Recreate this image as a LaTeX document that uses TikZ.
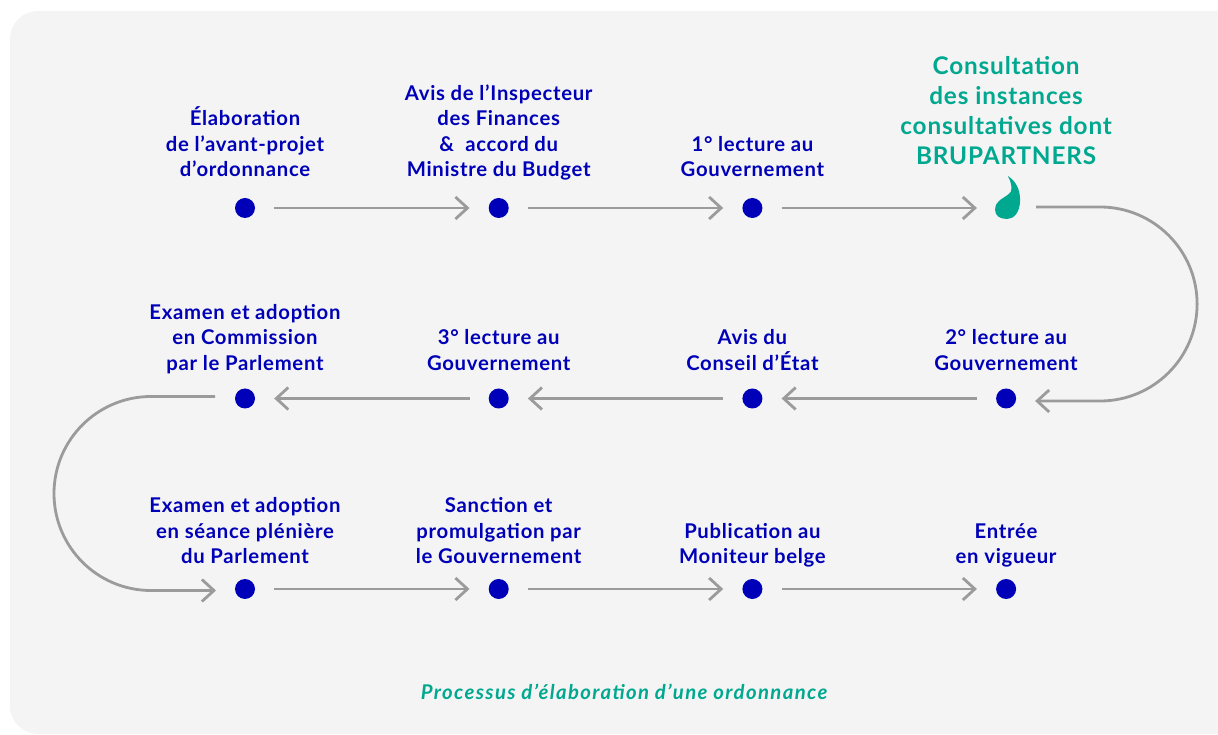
\documentclass[tikz,border=0pt]{standalone}
\usepackage{fontspec}
\setmainfont{Lato}[LetterSpace=3.5]
\usetikzlibrary{arrows.meta, positioning, calc}
\begin{document}
\begin{tikzpicture}[
    x=1pt, y=1pt,
    >={Straight Barb[length=12pt,width=22pt,line width=2.8pt]},
    font=\rmfamily
]

\definecolor{colorbg}{HTML}{F4F4F4}
\definecolor{colordot}{HTML}{0000B8}
\definecolor{colorteal}{HTML}{00A890}
\definecolor{colorarr}{HTML}{9B9B9B}

\tikzset{
    stepdot/.style={
        circle,
        fill=colordot,
        inner sep=0pt,
        minimum size=20pt,
        on grid
    },
    steplabel/.style={
        text=colordot,
        font=\fontsize{20.3}{25.5}\selectfont\bfseries,
        align=center,
        inner sep=0pt,
        text depth=0pt
    },
    arr/.style={
        ->,
        line width=2.8pt,
        draw=colorarr,
        shorten <=19pt,
        shorten >=19pt
    },
    arrbend/.style={
        ->,
        line width=2.8pt,
        draw=colorarr
    }
}

\useasboundingbox (0,0) rectangle (1218,734);
\fill[colorbg] (1230,723) -- (38,723) arc[start angle=90,end angle=180,radius=28]
    -- (10,28) arc[start angle=180,end angle=270,radius=28] -- (1230,0) -- cycle;

% Dots
\node[stepdot] (d1) at (245,526) {};
\node[stepdot, right=253.7pt of d1] (d2) {};
\node[stepdot, right=253.7pt of d2] (d3) {};
\node[stepdot, fill=none, right=253.7pt of d3] (d4) {};
\node[stepdot, below=190.5pt of d4] (d5) {};
\node[stepdot, below=190.5pt of d3] (d6) {};
\node[stepdot, below=190.5pt of d2] (d7) {};
\node[stepdot, below=190.5pt of d1] (d8) {};
\node[stepdot, below=190.5pt of d8] (d9) {};
\node[stepdot, below=190.5pt of d7] (d10) {};
\node[stepdot, below=190.5pt of d6] (d11) {};
\node[stepdot, below=190.5pt of d5] (d12) {};

% Drop
\fill[colorteal, shift={(d4)}] (1.7,32) .. controls (10,27) and (14,18) .. (14,8)
    .. controls (14,-4) and (8,-11) .. (1,-11)
    .. controls (-6,-11) and (-11,-8) .. (-11,-2)
    .. controls (-11,3) and (-9,6) .. (-6,8)
    .. controls (-1,11.5) and (3,13.5) .. (4.7,16.3)
    .. controls (6,19) and (5.5,26) .. cycle;

% Labels
\node[steplabel, above=21pt of d1] (l1) {Élaboration\\de l’avant-projet\\d’ordonnance};
\node[steplabel, above=21pt of d2] (l2) {Avis de l’Inspecteur\\des Finances\\\&~ accord du\\Ministre du Budget};
\node[steplabel, above=21pt of d3] (l3) {1° lecture au\\Gouvernement};
\node[steplabel, text=colorteal, font=\fontsize{24.3}{30}\selectfont\bfseries, above=33pt of d4] (l4) {Consultation\\des instances\\consultatives dont\\BRUPARTNERS};
\node[steplabel, above=18pt of d5] (l5) {2° lecture au\\Gouvernement};
\node[steplabel, above=18pt of d6] (l6) {Avis du\\Conseil d’État};
\node[steplabel, above=18pt of d7] (l7) {3° lecture au\\Gouvernement};
\node[steplabel, above=18pt of d8] (l8) {Examen et adoption\\en Commission\\par le Parlement};
\node[steplabel, above=15pt of d9] (l9) {Examen et adoption\\en séance plénière\\du Parlement};
\node[steplabel, above=15pt of d10] (l10) {Sanction et\\promulgation par\\le Gouvernement};
\node[steplabel, above=15pt of d11] (l11) {Publication au\\Moniteur belge};
\node[steplabel, above=15pt of d12] (l12) {Entrée\\en vigueur};

% Caption
\node[steplabel, text=colorteal, font=\fontsize{20.3}{25.5}\selectfont\bfseries\itshape\addfontfeature{LetterSpace=6.8}] (cap) at (624,42) {Processus d’élaboration d’une ordonnance};

% Straight arrows
\draw[arr] (d1) -- (d2);
\draw[arr] (d2) -- (d3);
\draw[arr] (d3) -- (d4);
\draw[arr] (d5) -- (d6);
\draw[arr] (d6) -- (d7);
\draw[arr] (d7) -- (d8);
\draw[arr] (d9) -- (d10);
\draw[arr] (d10) -- (d11);
\draw[arr] (d11) -- (d12);

% Bends between rows
\draw[arrbend] ($(d4)+(30,1)$) -- ++(64,0) arc[start angle=90,end angle=-90,radius=97] -- ($(d5)+(29,-2.5)$);
\draw[arrbend] ($(d8)+(-30,2)$) -- ++(-64,0) arc[start angle=90,end angle=270,radius=97] -- ($(d9)+(-29,-1.5)$);

\end{tikzpicture}
\end{document}
